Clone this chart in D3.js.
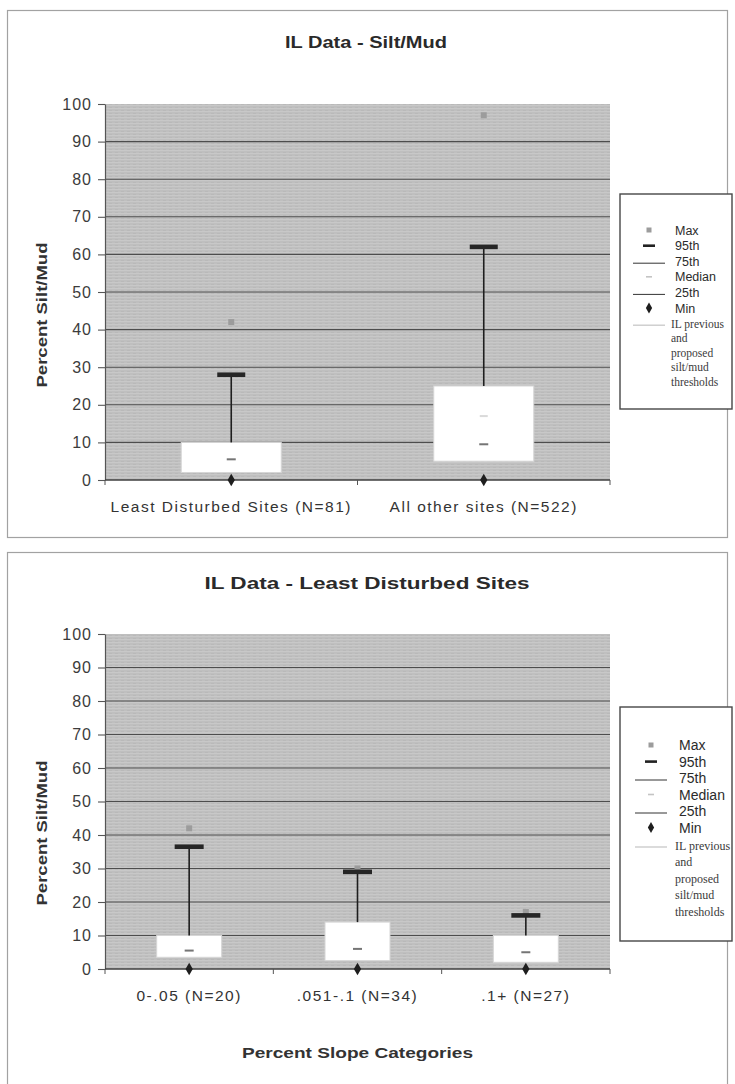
<!DOCTYPE html>
<html>
<head>
<meta charset="utf-8">
<script src="https://cdn.jsdelivr.net/npm/d3@7"></script>
<style>
  html, body { margin: 0; padding: 0; background: #ffffff; }
  svg { display: block; }
  text { font-family: "Liberation Sans", Arial, sans-serif; }
</style>
</head>
<body>
<svg id="fig" width="735" height="1084"></svg>
<script>
// Percentile summaries of percent silt/mud, by site group
const groupCategories = ["Least Disturbed Sites (N=81)", "All other sites (N=522)"];
const groupMax       = [42, 97];
const group95th      = [28, 62];
const group75th      = [10, 25];
const groupMedian    = [5.5, 9.5];
const group25th      = [2, 5];
const groupMin       = [0, 0];
const groupThreshold = [null, 17];

// Least disturbed sites split by percent slope
const slopeCategories = ["0-.05 (N=20)", ".051-.1 (N=34)", ".1+ (N=27)"];
const slopeMax       = [42, 30, 17];
const slope95th      = [36.5, 29, 16];
const slope75th      = [10, 14, 10];
const slopeMedian    = [5.5, 6, 5];
const slope25th      = [3.5, 2.5, 2];
const slopeMin       = [0, 0, 0];
const slopeThreshold = [null, null, null];

const yTicks = [0, 10, 20, 30, 40, 50, 60, 70, 80, 90, 100];
const legendLabels = ["Max", "95th", "75th", "Median", "25th", "Min"];
const thresholdLabel = ["IL previous", "and", "proposed", "silt/mud", "thresholds"];

const svg = d3.select("#fig");

// striped grey fill used behind the plots
const defs = svg.append("defs");
const pat = defs.append("pattern")
  .attr("id", "plotFill").attr("patternUnits", "userSpaceOnUse")
  .attr("width", 6).attr("height", 3);
pat.append("rect").attr("width", 6).attr("height", 3).attr("fill", "#bfbfbf");
pat.append("rect").attr("y", 0).attr("width", 6).attr("height", 1).attr("fill", "#c8c8c8");
pat.append("rect").attr("x", 1).attr("y", 2).attr("width", 3).attr("height", 1).attr("fill", "#b9b9b9");

function makeRows(cats, mx, p95, q75, med, q25, mn, thr) {
  return cats.map((c, i) => ({
    cat: c, max: mx[i], p95: p95[i], q75: q75[i], median: med[i],
    q25: q25[i], min: mn[i], thr: thr[i]
  }));
}

function drawChart(cfg, rows) {
  const g = svg.append("g");

  // chart frame
  g.append("rect")
    .attr("x", cfg.frame[0]).attr("y", cfg.frame[1])
    .attr("width", cfg.frame[2]).attr("height", cfg.frame[3])
    .attr("fill", "#ffffff").attr("stroke", "#a2a2a2").attr("stroke-width", 1.2);

  // title
  g.append("text")
    .attr("x", cfg.titleX).attr("y", cfg.titleY)
    .attr("text-anchor", "middle")
    .attr("font-size", cfg.titleSize).attr("font-weight", "bold")
    .attr("fill", "#2a2a2a")
    .attr("textLength", cfg.titleLen).attr("lengthAdjust", "spacingAndGlyphs")
    .text(cfg.title);

  const x = d3.scaleBand().domain(rows.map(d => d.cat)).range([cfg.left, cfg.right]);
  const y = d3.scaleLinear().domain([0, 100]).range([cfg.bottom, cfg.top]);

  // plot background
  g.append("rect")
    .attr("x", cfg.left).attr("y", y(100))
    .attr("width", cfg.right - cfg.left).attr("height", y(0) - y(100))
    .attr("fill", "url(#plotFill)");

  // horizontal gridlines
  g.append("g").selectAll("line")
    .data(yTicks.filter(t => t > 0 && t < 100))
    .join("line")
    .attr("x1", cfg.left).attr("x2", cfg.right)
    .attr("y1", d => y(d)).attr("y2", d => y(d))
    .attr("stroke", "#4d4d4d").attr("stroke-width", 1.1);

  // y axis
  const ya = g.append("g")
    .attr("transform", `translate(${cfg.left},0)`)
    .call(d3.axisLeft(y).tickValues(yTicks).tickSize(7).tickSizeOuter(0).tickPadding(6));
  ya.select(".domain").attr("stroke", "#555").attr("stroke-width", 1.2);
  ya.selectAll(".tick line").attr("stroke", "#555").attr("stroke-width", 1.1);
  ya.selectAll(".tick text")
    .attr("font-size", 16).attr("fill", "#3c3c3c")
    .attr("letter-spacing", 1)
    .style("font-family", "'Liberation Sans', Arial, sans-serif");

  // x axis baseline with ticks at category boundaries
  g.append("line")
    .attr("x1", cfg.left).attr("x2", cfg.right)
    .attr("y1", y(0)).attr("y2", y(0))
    .attr("stroke", "#3f3f3f").attr("stroke-width", 1.5);
  const bounds = x.domain().map(c => x(c)).concat([cfg.right]);
  g.append("g").selectAll("line").data(bounds).join("line")
    .attr("x1", d => d).attr("x2", d => d)
    .attr("y1", y(0)).attr("y2", y(0) + 5)
    .attr("stroke", "#555").attr("stroke-width", 1);

  // category labels
  g.append("g").selectAll("text").data(rows).join("text")
    .attr("x", d => x(d.cat) + x.bandwidth() / 2)
    .attr("y", cfg.catY)
    .attr("text-anchor", "middle")
    .attr("font-size", 15.5).attr("letter-spacing", 1.5)
    .attr("fill", "#333")
    .text(d => d.cat);

  // y axis title
  g.append("text")
    .attr("transform", `translate(${cfg.yTitleX},${cfg.yTitleY}) rotate(-90)`)
    .attr("text-anchor", "middle")
    .attr("font-size", 15).attr("font-weight", "bold")
    .attr("fill", "#333")
    .attr("textLength", 145).attr("lengthAdjust", "spacingAndGlyphs")
    .text("Percent Silt/Mud");

  if (cfg.xTitle) {
    g.append("text")
      .attr("x", (cfg.left + cfg.right) / 2).attr("y", cfg.xTitleY)
      .attr("text-anchor", "middle")
      .attr("font-size", 15.5).attr("font-weight", "bold")
      .attr("fill", "#333")
      .attr("textLength", 231).attr("lengthAdjust", "spacingAndGlyphs")
      .text(cfg.xTitle);
  }

  const bw = x.bandwidth() * cfg.boxFrac;
  const cx = d => x(d.cat) + x.bandwidth() / 2;
  const marks = g.append("g");

  // 25th-75th box
  marks.selectAll(".box").data(rows).join("rect")
    .attr("class", "box")
    .attr("x", d => cx(d) - bw / 2).attr("width", bw)
    .attr("y", d => y(d.q75)).attr("height", d => y(d.q25) - y(d.q75))
    .attr("fill", "#ffffff").attr("stroke", "#d6d6d6").attr("stroke-width", 1);

  // threshold marks
  marks.selectAll(".thr").data(rows.filter(d => d.thr != null)).join("rect")
    .attr("class", "thr")
    .attr("x", d => cx(d) - 4).attr("width", 8)
    .attr("y", d => y(d.thr) - 1).attr("height", 2)
    .attr("fill", "#dadada");

  // whisker from 75th up to 95th
  marks.selectAll(".whisk").data(rows).join("line")
    .attr("class", "whisk")
    .attr("x1", cx).attr("x2", cx)
    .attr("y1", d => y(d.q75)).attr("y2", d => y(d.p95))
    .attr("stroke", "#1e1e1e").attr("stroke-width", 1.6);

  // max marker
  marks.selectAll(".mx").data(rows).join("rect")
    .attr("class", "mx")
    .attr("x", d => cx(d) - 3).attr("width", 6)
    .attr("y", d => y(d.max) - 3).attr("height", 6)
    .attr("fill", "#9c9c9c");

  // 95th bar
  marks.selectAll(".p95").data(rows).join("rect")
    .attr("class", "p95")
    .attr("x", d => cx(d) - cfg.barW / 2).attr("width", cfg.barW)
    .attr("y", d => y(d.p95) - 2.3).attr("height", 4.6)
    .attr("fill", "#262626");

  // median
  marks.selectAll(".med").data(rows).join("rect")
    .attr("class", "med")
    .attr("x", d => cx(d) - 4.5).attr("width", 9)
    .attr("y", d => y(d.median) - 1).attr("height", 2)
    .attr("fill", "#757575");

  // min diamond
  marks.selectAll(".mn").data(rows).join("path")
    .attr("class", "mn")
    .attr("transform", d => `translate(${cx(d)},${y(d.min)})`)
    .attr("d", d3.symbol(d3.symbolDiamond, 46))
    .attr("fill", "#1e1e1e");

  drawLegend(cfg.legend);
}

function drawLegend(L) {
  const g = svg.append("g");
  g.append("rect")
    .attr("x", L.x).attr("y", L.y).attr("width", L.w).attr("height", L.h)
    .attr("fill", "#ffffff").attr("stroke", "#474747").attr("stroke-width", 1.4);

  const sx = L.symX, half = 16;
  legendLabels.forEach((lab, i) => {
    const yy = L.firstY + i * L.step;
    if (lab === "Max") {
      g.append("rect").attr("x", sx - 2.5).attr("y", yy - 2.5).attr("width", 5).attr("height", 5).attr("fill", "#9c9c9c");
    } else if (lab === "95th") {
      g.append("rect").attr("x", sx - 6).attr("y", yy - 1.2).attr("width", 12).attr("height", 2.6).attr("fill", "#222");
    } else if (lab === "75th" || lab === "25th") {
      g.append("line").attr("x1", sx - half).attr("x2", sx + half).attr("y1", yy + 2).attr("y2", yy + 2)
        .attr("stroke", "#333").attr("stroke-width", 1);
    } else if (lab === "Median") {
      g.append("rect").attr("x", sx - 3).attr("y", yy - 0.8).attr("width", 6).attr("height", 1.6).attr("fill", "#c4c4c4");
    } else if (lab === "Min") {
      g.append("path").attr("transform", `translate(${sx},${yy})`)
        .attr("d", d3.symbol(d3.symbolDiamond, 34)).attr("fill", "#1e1e1e");
    }
    g.append("text")
      .attr("x", L.textX).attr("y", yy).attr("dy", "0.36em")
      .attr("font-size", L.fontSize).attr("fill", "#2b2b2b")
      .text(lab);
  });

  const thrY = L.firstY + legendLabels.length * L.step + L.gap;
  g.append("line")
    .attr("x1", sx - half).attr("x2", sx + half).attr("y1", thrY + 1).attr("y2", thrY + 1)
    .attr("stroke", "#c8c8c8").attr("stroke-width", 1.3);
  thresholdLabel.forEach((t, i) => {
    g.append("text")
      .attr("x", L.textX - 4).attr("y", thrY + i * L.serifStep).attr("dy", "0.3em")
      .style("font-family", "'Liberation Serif', 'Times New Roman', serif")
      .attr("font-size", L.serifSize).attr("fill", "#3a3a3a")
      .text(t);
  });
}

drawChart({
  frame: [7.5, 10.5, 720, 527],
  title: "IL Data - Silt/Mud", titleX: 366, titleY: 48, titleSize: 16, titleLen: 162,
  left: 105, right: 610, top: 104, bottom: 480,
  catY: 512, yTitleX: 47, yTitleY: 315,
  boxFrac: 0.396, barW: 28,
  legend: { x: 620, y: 194, w: 112, h: 215, symX: 649, textX: 675,
            firstY: 230, step: 15.6, fontSize: 12.5, gap: 0.6,
            serifStep: 14.5, serifSize: 11.5 }
}, makeRows(groupCategories, groupMax, group95th, group75th, groupMedian, group25th, groupMin, groupThreshold));

drawChart({
  frame: [7.5, 552.5, 720, 560],
  title: "IL Data - Least Disturbed Sites", titleX: 367, titleY: 589, titleSize: 17, titleLen: 325,
  left: 105, right: 610, top: 634, bottom: 969,
  catY: 1001, yTitleX: 47, yTitleY: 833,
  xTitle: "Percent Slope Categories", xTitleY: 1058,
  boxFrac: 0.386, barW: 29,
  legend: { x: 620, y: 707, w: 112, h: 234, symX: 651, textX: 679,
            firstY: 745, step: 16.5, fontSize: 14, gap: 2,
            serifStep: 16.5, serifSize: 12 }
}, makeRows(slopeCategories, slopeMax, slope95th, slope75th, slopeMedian, slope25th, slopeMin, slopeThreshold));
</script>
</body>
</html>
